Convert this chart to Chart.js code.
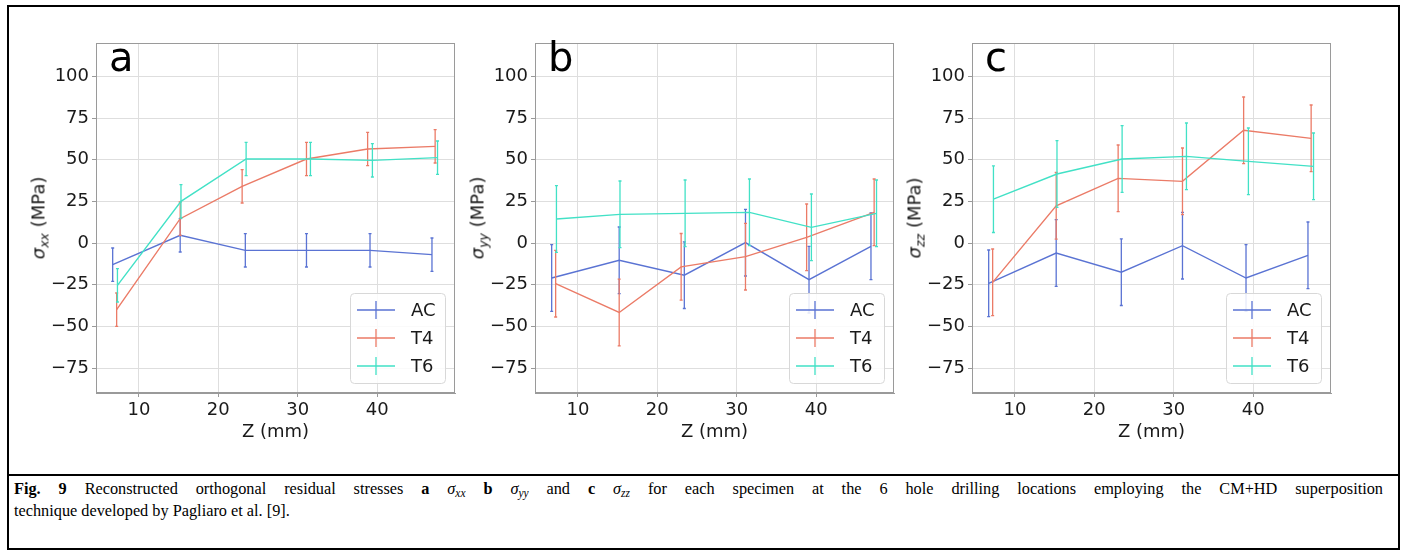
<!DOCTYPE html>
<html>
<head>
<meta charset="utf-8">
<script src="https://cdn.jsdelivr.net/npm/chart.js@4.4.0/dist/chart.umd.min.js"></script>
<style>
  body { margin: 0; background: #fff; }
  #fig { position: relative; width: 1407px; height: 553px; overflow: hidden; font-family: "DejaVu Sans", sans-serif; }
  .frame { position: absolute; left: 7px; top: 5px; width: 1393px; height: 545px; border: 2px solid #000; box-sizing: border-box; }
  .sep { position: absolute; left: 7px; top: 474px; width: 1393px; height: 2px; background: #000; }
  canvas.panel { position: absolute; top: 0; }
  .lbl { position: absolute; white-space: nowrap; color: #1a1a1a; font-size: 18px; transform: translate(-50%, -50%); }
  .ylab { transform: translate(-50%, -50%) rotate(-90deg); }
  .ylab sub, .cap sub { font-size: 0.7em; line-height: 0; vertical-align: -0.3em; }
  .letter { position: absolute; font-size: 40px; color: #000; line-height: 1; }
  .cap { position: absolute; left: 14px; top: 478px; width: 1369px; font-family: "Liberation Serif", "Times New Roman", serif; font-size: 16.3px; line-height: 22px; color: #000; }
  .cap .l1 { white-space: nowrap; text-align: justify; text-align-last: justify; }
</style>
</head>
<body>
<div id="fig">
  <div class="frame"></div>
  <div class="sep"></div>
  <canvas id="chartA" class="panel" width="444" height="453"></canvas>
  <canvas id="chartB" class="panel" width="444" height="453"></canvas>
  <canvas id="chartC" class="panel" width="444" height="453"></canvas>
  <div class="cap">
    <div class="l1"><b>Fig. 9</b> Reconstructed orthogonal residual stresses <b>a</b> <i>σ<sub>xx</sub></i> <b>b</b> <i>σ<sub>yy</sub></i> and <b>c</b> <i>σ<sub>zz</sub></i> for each specimen at the 6 hole drilling locations employing the CM+HD superposition</div>
    <div>technique developed by Pagliaro et al. [9].</div>
  </div>
</div>
<script>
// axis ticks
const zTicks = [10, 20, 30, 40];
const stressTicks = [-75, -50, -25, 0, 25, 50, 75, 100];
const seriesNames = ['AC', 'T4', 'T6'];
const seriesColors = ['#5a73d3', '#eb7b67', '#42e1c6'];

// hole positions Z (mm), slightly offset per specimen
const zAC = [6.7, 15.2, 23.4, 31.1, 39.1, 46.9];
const zT4 = [7.2, 15.2, 23.0, 31.1, 38.8, 47.3];
const zT6 = [7.3, 15.3, 23.5, 31.6, 39.4, 47.6];

// a: sigma_xx (MPa)
const sxxAC = [-13, 4.6, -4.4, -4.4, -4.4, -7];
const sxxT4 = [-40, 14.6, 34, 50.4, 56.4, 58];
const sxxT6 = [-25.4, 25, 50.4, 50.4, 49.6, 51.2];
const sxxErr = [10, 10, 10, 10, 10, 10];

// b: sigma_yy (MPa)
const syyAC = [-21, -10.4, -19.3, 0.2, -22, -2];
const syyT4 = [-24.4, -41.7, -14.3, -8.2, 3.4, 18.4];
const syyT6 = [14.4, 17.2, 17.8, 18.4, 9.4, 17.8];
const syyErr = [20, 20, 20, 20, 20, 20];

// c: sigma_zz (MPa)
const szzAC = [-24.2, -6, -17.5, -1.6, -21, -7.4];
const szzT4 = [-23.6, 22.3, 38.8, 37, 67.6, 62.8];
const szzT6 = [26.3, 41.4, 50.4, 52, 49, 46];
const szzErr = [20, 20, 20, 20, 20, 20];

const PLOT_W = 359, AXIS_W = 80, AXIS_H = 60, TOP = 43;

// vertical error bars with small caps, drawn right after each series
const errorBars = {
  id: 'errorBars',
  afterDatasetDraw(chart, args) {
    const ds = chart.data.datasets[args.index];
    const ys = chart.scales.y;
    const ctx = chart.ctx;
    ctx.save();
    ctx.strokeStyle = ds.borderColor;
    ctx.lineWidth = 1.3;
    args.meta.data.forEach((pt, i) => {
      const v = ds.data[i].y, e = ds.errors[i];
      const t = ys.getPixelForValue(v + e), b = ys.getPixelForValue(v - e);
      ctx.beginPath();
      ctx.moveTo(pt.x, t); ctx.lineTo(pt.x, b);
      ctx.moveTo(pt.x - 1.5, t); ctx.lineTo(pt.x + 1.5, t);
      ctx.moveTo(pt.x - 1.5, b); ctx.lineTo(pt.x + 1.5, b);
      ctx.stroke();
    });
    ctx.restore();
  }
};

// top/right spines + matplotlib-like legend in lower right
const frameAndLegend = {
  id: 'frameAndLegend',
  afterDraw(chart) {
    const ctx = chart.ctx;
    const a = chart.chartArea;
    ctx.save();
    ctx.strokeStyle = '#9a9a9a';
    ctx.lineWidth = 1;
    ctx.strokeRect(a.left + 0.5, a.top + 0.5, a.right - a.left - 1, a.bottom - a.top - 1);

    const w = 95, h = 90;
    const x0 = a.right - 10 - w, y0 = a.bottom - 10 - h;
    ctx.beginPath();
    ctx.roundRect(x0 + 0.5, y0 + 0.5, w, h, 4);
    ctx.fillStyle = 'rgba(255,255,255,0.85)';
    ctx.fill();
    ctx.strokeStyle = '#d8d8d8';
    ctx.stroke();

    ctx.font = '18px "DejaVu Sans"';
    ctx.textBaseline = 'middle';
    chart.data.datasets.forEach((ds, i) => {
      const cy = y0 + 17 + i * 28;
      ctx.strokeStyle = ds.borderColor;
      ctx.lineWidth = 1.3;
      ctx.beginPath();
      ctx.moveTo(x0 + 7, cy); ctx.lineTo(x0 + 45, cy);
      ctx.moveTo(x0 + 26, cy - 9); ctx.lineTo(x0 + 26, cy + 9);
      ctx.stroke();
      ctx.fillStyle = '#1a1a1a';
      ctx.fillText(ds.label, x0 + 61, cy + 1);
    });
    ctx.restore();
  }
};

function makePanel(id, plotLeft, ys, errs) {
  const el = document.getElementById(id);
  el.style.left = (plotLeft - AXIS_W) + 'px';
  const xs = [zAC, zT4, zT6];
  const datasets = seriesNames.map((name, i) => ({
    label: name,
    data: xs[i].map((z, k) => ({ x: z, y: ys[i][k] })),
    errors: errs,
    borderColor: seriesColors[i],
    borderWidth: 1.4,
    pointRadius: 0,
    tension: 0,
    fill: false,
    order: 3 - i
  }));
  return new Chart(el, {
    type: 'line',
    data: { datasets },
    options: {
      responsive: false,
      animation: false,
      devicePixelRatio: 1,
      layout: { padding: { left: 0, top: TOP, right: 444 - AXIS_W - PLOT_W, bottom: 0 } },
      plugins: { legend: { display: false }, tooltip: { enabled: false } },
      scales: {
        x: {
          type: 'linear', min: 4.6, max: 49.8,
          afterBuildTicks: s => { s.ticks = zTicks.map(v => ({ value: v })); },
          afterFit: s => { s.height = AXIS_H; },
          grid: { color: '#dedede', tickColor: '#9a9a9a', tickLength: 4 },
          border: { color: '#9a9a9a' },
          ticks: { color: '#1a1a1a', padding: 3, maxRotation: 0, font: { family: 'DejaVu Sans', size: 18 } }
        },
        y: {
          min: -90, max: 120,
          afterBuildTicks: s => { s.ticks = stressTicks.map(v => ({ value: v })); },
          afterFit: s => { s.width = AXIS_W; },
          grid: { color: '#dedede', tickColor: '#9a9a9a', tickLength: 4 },
          border: { color: '#9a9a9a' },
          ticks: {
            color: '#1a1a1a', padding: 3, font: { family: 'DejaVu Sans', size: 18 },
            callback: v => String(v).replace('-', '\u2212')
          }
        }
      }
    },
    plugins: [errorBars, frameAndLegend]
  });
}

const panels = [
  { id: 'chartA', left: 96, ys: [sxxAC, sxxT4, sxxT6], err: sxxErr, letter: 'a', sym: 'xx' },
  { id: 'chartB', left: 535, ys: [syyAC, syyT4, syyT6], err: syyErr, letter: 'b', sym: 'yy' },
  { id: 'chartC', left: 972, ys: [szzAC, szzT4, szzT6], err: szzErr, letter: 'c', sym: 'zz' }
];

const fig = document.getElementById('fig');
panels.forEach(p => {
  makePanel(p.id, p.left, p.ys, p.err);

  const letter = document.createElement('div');
  letter.className = 'letter';
  letter.textContent = p.letter;
  letter.style.left = (p.left + 13) + 'px';
  letter.style.top = (TOP - 6) + 'px';
  fig.appendChild(letter);

  const yl = document.createElement('div');
  yl.className = 'lbl ylab';
  yl.innerHTML = '<i>σ<sub>' + p.sym + '</sub></i> (MPa)';
  yl.style.left = (p.left - 58) + 'px';
  yl.style.top = '218px';
  fig.appendChild(yl);

  const xl = document.createElement('div');
  xl.className = 'lbl';
  xl.textContent = 'Z (mm)';
  xl.style.left = (p.left + PLOT_W / 2) + 'px';
  xl.style.top = '430px';
  fig.appendChild(xl);
});
</script>
</body>
</html>
